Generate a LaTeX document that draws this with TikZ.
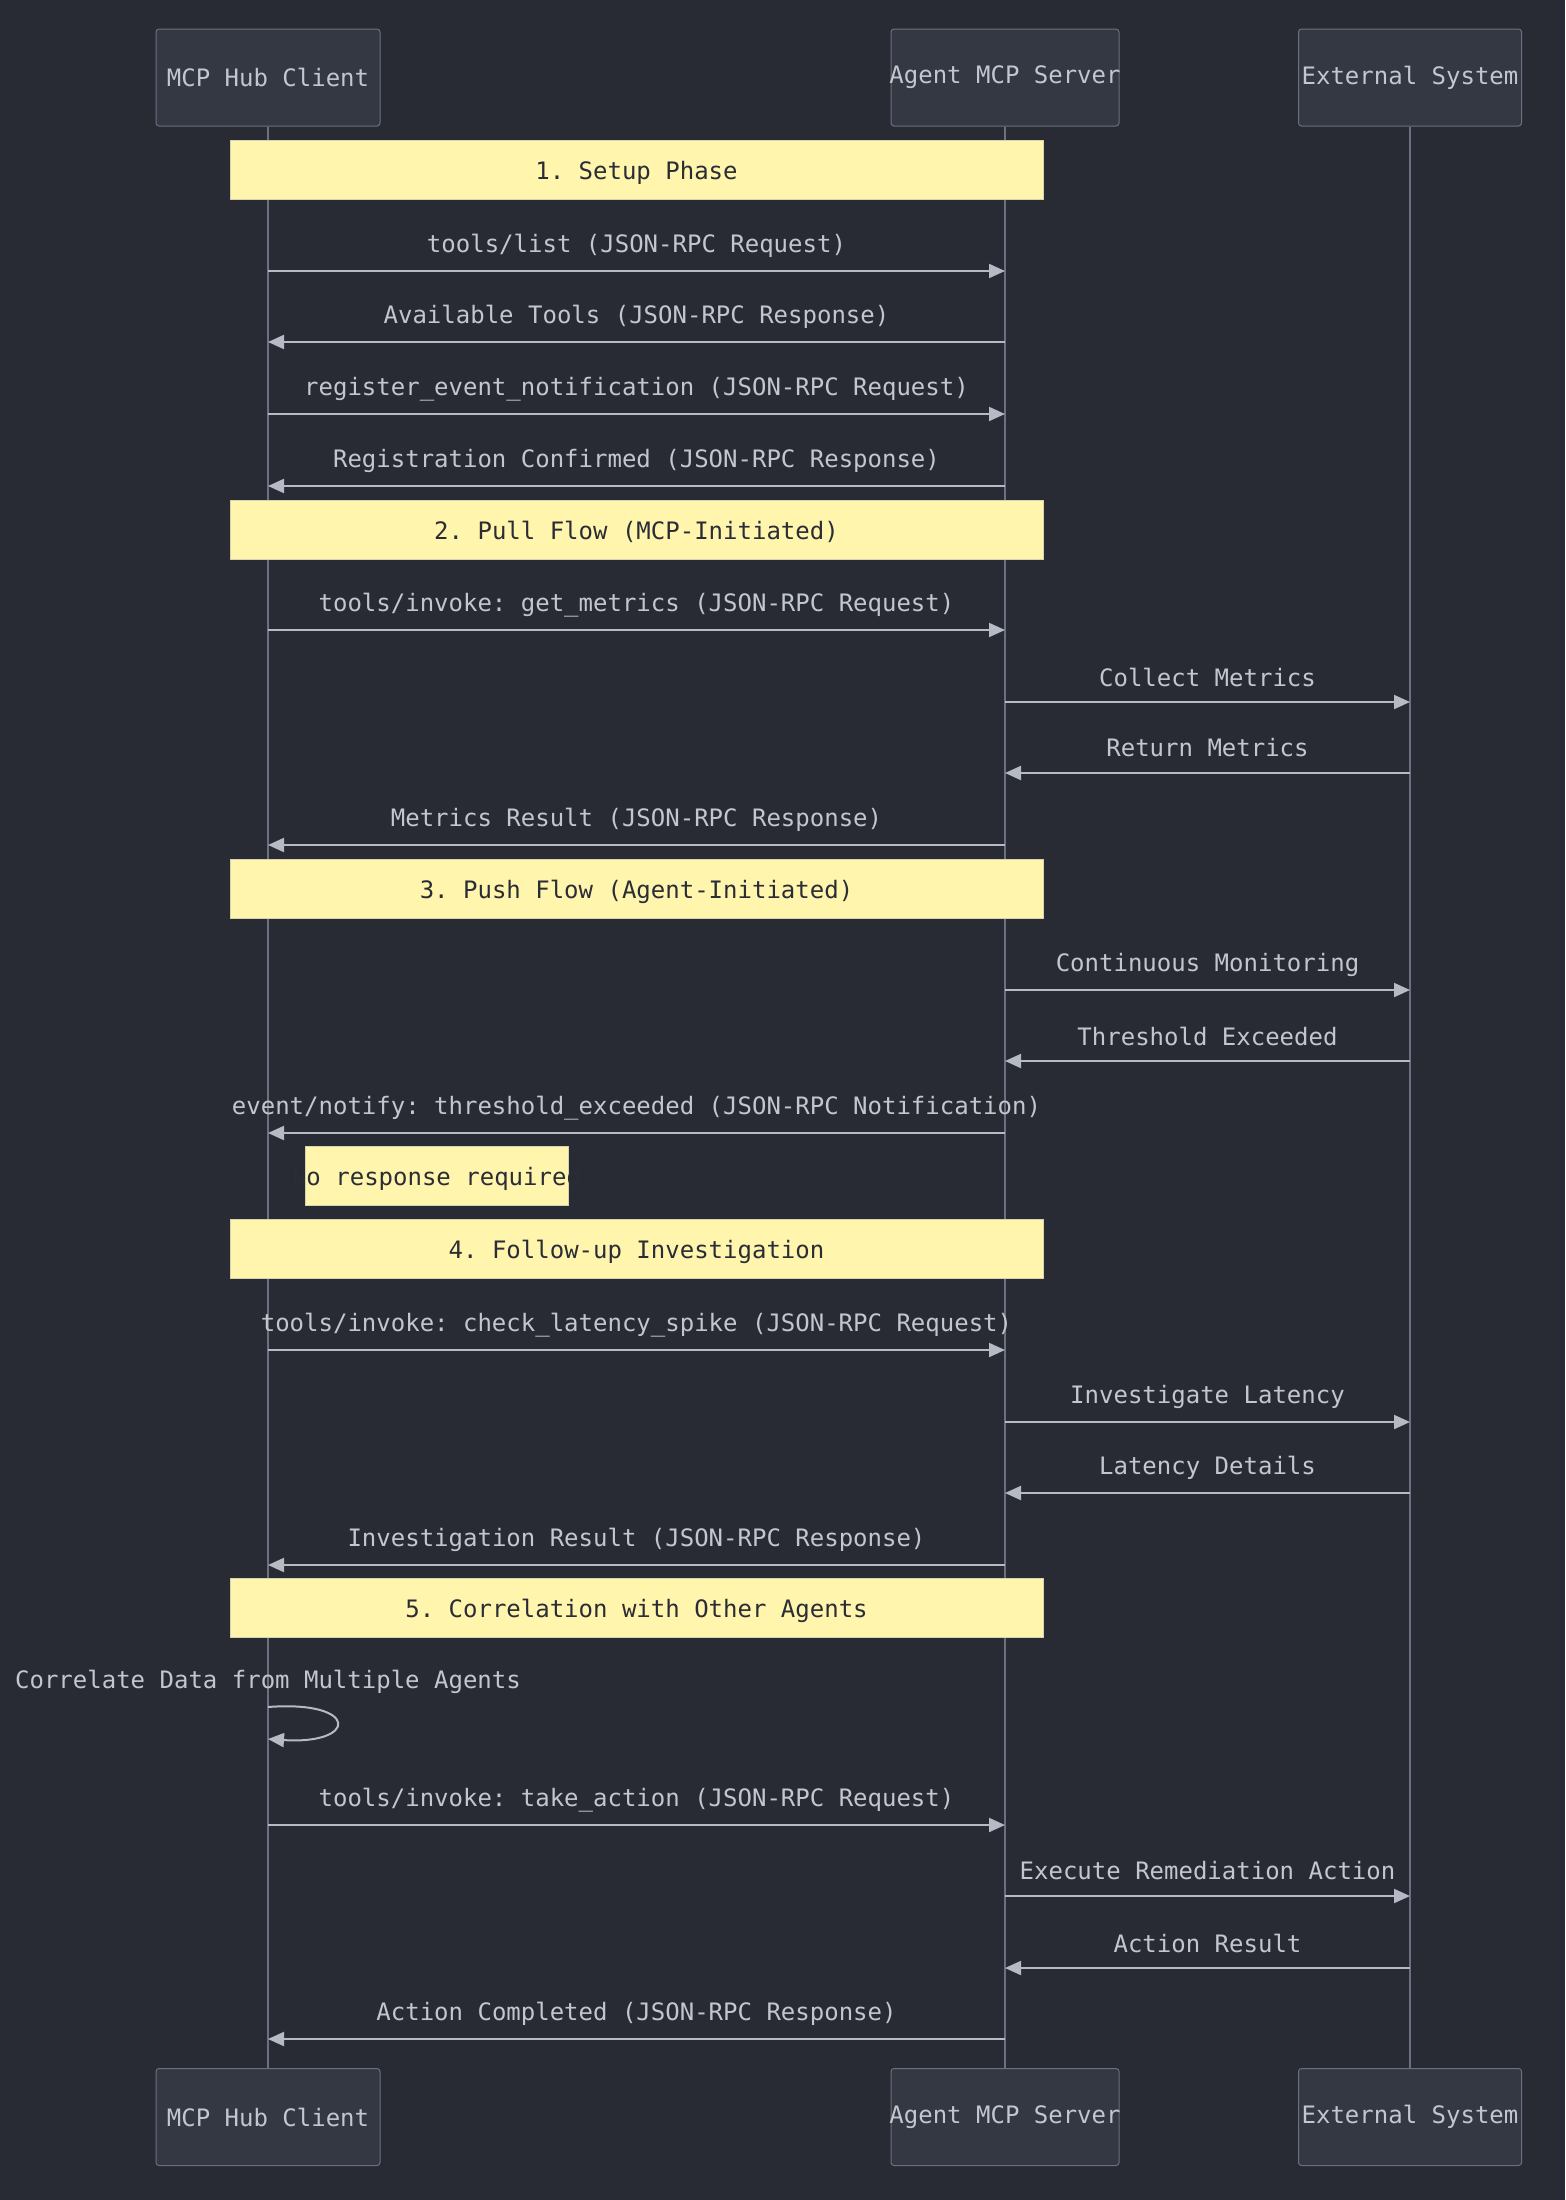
\documentclass[tikz,border=0pt]{standalone}
\usepackage{fontspec}
\setmainfont{DejaVu Sans Mono}
\usetikzlibrary{arrows.meta, positioning, calc}
\definecolor{bgdark}{HTML}{282B34}
\definecolor{actorfill}{HTML}{343843}
\definecolor{actorline}{HTML}{6B7080}
\definecolor{lifegray}{HTML}{6B7080}
\definecolor{msggray}{HTML}{B6BAC4}
\definecolor{lighttext}{HTML}{C2C6CE}
\definecolor{notefill}{HTML}{FFF5AD}
\definecolor{noteline}{HTML}{D6D3B0}
\definecolor{notetext}{HTML}{2A2D36}

\tikzset{
  actorbox/.style={fill=actorfill, draw=actorline, line width=0.5pt, rounded corners=1.5pt,
                   minimum width=112pt, minimum height=48.5pt, inner xsep=0pt,
                   text=lighttext, font=\fontsize{12}{14}\selectfont},
  lifeline/.style={draw=lifegray, line width=1pt},
  phasenote/.style={fill=notefill, draw=noteline, line width=0.5pt, minimum width=406.5pt,
                    minimum height=29.5pt, inner xsep=0pt, text=notetext,
                    text height=10.5pt, text depth=1pt,
                    font=\fontsize{12}{14}\selectfont},
  msg/.style={draw=msggray, line width=1pt, -{Triangle[length=8pt, width=7pt]}},
  msglabel/.style={text=lighttext, font=\fontsize{12}{14}\selectfont, inner sep=0pt}
}

\begin{document}
\frenchspacing
\begin{tikzpicture}[x=0.5pt, y=-0.5pt]
  \fill[bgdark] (0,0) rectangle (1565,2200);
  \useasboundingbox (0,0) rectangle (1565,2200);

  % participants, top and bottom
  \node[actorbox] (hubT) at (268,77.5) {MCP Hub Client};
  \node[actorbox, minimum width=114pt] (agentT) at (1005,77.5) {\makebox[114pt]{Agent MCP Server}};
  \node[actorbox, minimum width=111.5pt] (extT) at (1410,77.5) {External System};
  \node[actorbox] (hubB) at (268,2117) {MCP Hub Client};
  \node[actorbox, minimum width=114pt] (agentB) at (1005,2117) {\makebox[114pt]{Agent MCP Server}};
  \node[actorbox, minimum width=111.5pt] (extB) at (1410,2117) {External System};

  \draw[lifeline] (hubT.south) -- (hubB.north);
  \draw[lifeline] (agentT.south) -- (agentB.north);
  \draw[lifeline] (extT.south) -- (extB.north);

  % phase notes
  \node[phasenote] (phase1) at (636.5,170) {1. Setup Phase};
  \node[phasenote] (phase2) at (636.5,529.5) {2. Pull Flow (MCP-Initiated)};
  \node[phasenote] (phase3) at (636.5,888.5) {3. Push Flow (Agent-Initiated)};
  \node[phasenote] (phase4) at (636.5,1248.5) {4. Follow-up Investigation};
  \node[phasenote] (phase5) at (636.5,1608) {5. Correlation with Other Agents};
  \node[phasenote, minimum width=131.5pt] (noresp) at (436.5,1175.5) {\makebox[131.5pt]{No response required}};

  % messages
  \foreach \y/\from/\to/\txt [count=\i] in {
      271/hubT/agentT/{tools/list (JSON-RPC Request)},
      342/agentT/hubT/{Available Tools (JSON-RPC Response)},
      414/hubT/agentT/{register\_event\_notification (JSON-RPC Request)},
      486/agentT/hubT/{Registration Confirmed (JSON-RPC Response)},
      630/hubT/agentT/{tools/invoke: get\_metrics (JSON-RPC Request)},
      702/agentT/extT/{Collect Metrics},
      773/extT/agentT/{Return Metrics},
      845/agentT/hubT/{Metrics Result (JSON-RPC Response)},
      990/agentT/extT/{Continuous Monitoring},
      1061/extT/agentT/{Threshold Exceeded},
      1133/agentT/hubT/{event/notify: threshold\_exceeded (JSON-RPC Notification)},
      1350/hubT/agentT/{tools/invoke: check\_latency\_spike (JSON-RPC Request)},
      1422/agentT/extT/{Investigate Latency},
      1493/extT/agentT/{Latency Details},
      1565/agentT/hubT/{Investigation Result (JSON-RPC Response)},
      1825/hubT/agentT/{tools/invoke: take\_action (JSON-RPC Request)},
      1896/agentT/extT/{Execute Remediation Action},
      1968/extT/agentT/{Action Result},
      2039/agentT/hubT/{Action Completed (JSON-RPC Response)}} {
    \coordinate (msg\i-s) at (\from |- 0,\y);
    \coordinate (msg\i-e) at (\to |- 0,\y);
    \draw[msg] (msg\i-s) -- (msg\i-e) node[msglabel, midway, yshift=12.5pt] {\txt};
  }

  % self message on the hub
  \node[msglabel] (corrtxt) at (268,1682) {Correlate Data from Multiple Agents};
  \coordinate (loop-s) at (hubT |- 0,1707);
  \coordinate (loop-e) at (hubT |- 0,1739);
  \draw[msg] (loop-s) .. controls +(92,-7) and +(90,6) .. (loop-e);
\end{tikzpicture}
\end{document}
